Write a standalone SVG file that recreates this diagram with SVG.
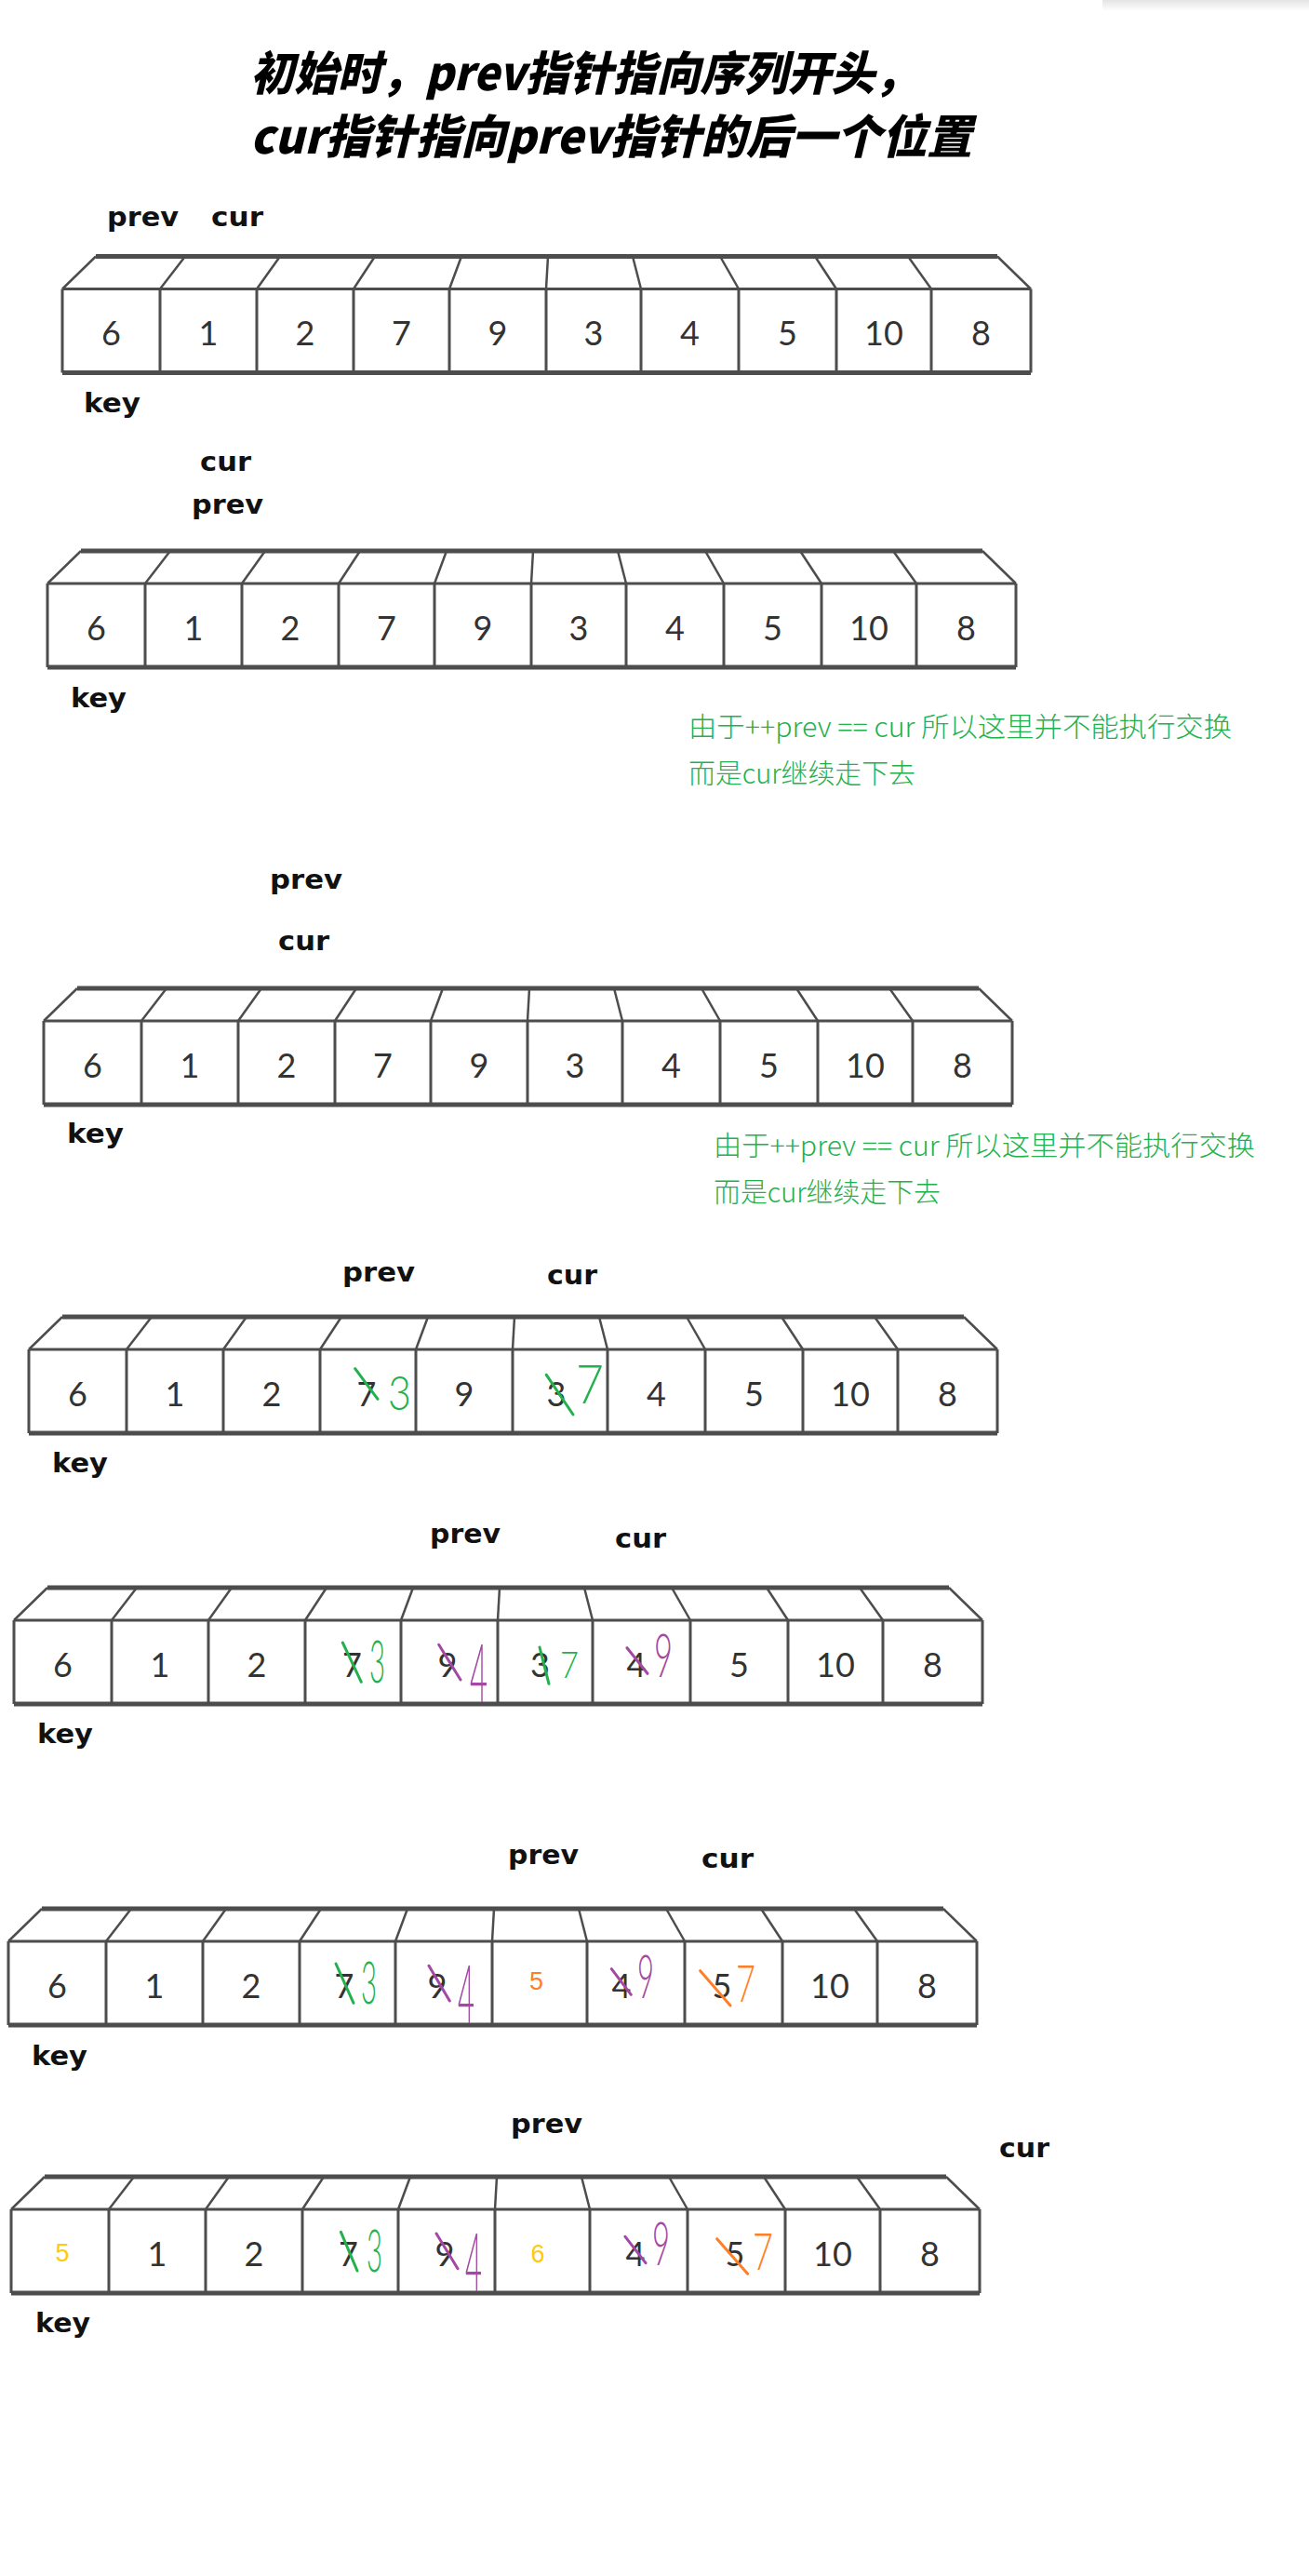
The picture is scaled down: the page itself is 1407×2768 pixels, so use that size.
<svg xmlns="http://www.w3.org/2000/svg" xmlns:xlink="http://www.w3.org/1999/xlink" width="1407" height="2768" viewBox="0 0 1407 2768">
<style>
.title{font-family:"Noto Sans CJK SC","Noto Sans",sans-serif;font-weight:900;font-style:italic;font-size:50px;fill:#000}
.lbl{font-family:"DejaVu Sans","Liberation Sans",sans-serif;font-weight:bold;font-size:29px;fill:#111}
.note{font-family:"Noto Sans CJK SC","Noto Sans",sans-serif;font-weight:300;font-size:29px;fill:#22b14c}
.d{font-family:"Lato","DejaVu Sans",sans-serif;font-size:36px;fill:#333;text-anchor:middle}
.h{font-family:"Lato","DejaVu Sans",sans-serif;font-weight:300}
.typed{font-family:"Liberation Sans","Noto Sans",sans-serif;font-size:27px;text-anchor:middle}
.g{fill:#22b14c}.p{fill:#a349a4}.o{fill:#ff7f27}.y{fill:#ffc90e}
.sg{stroke:#22b14c;stroke-width:3;fill:none;stroke-linecap:round}
.sp{stroke:#a349a4;stroke-width:3;fill:none;stroke-linecap:round}
.so{stroke:#ff7f27;stroke-width:3;fill:none;stroke-linecap:round}
</style>
<defs>
<linearGradient id="sh" x1="0" y1="0" x2="0" y2="1">
<stop offset="0" stop-color="#e4e4e4"/><stop offset="1" stop-color="#ffffff"/>
</linearGradient>
<g id="box" fill="none" stroke="#4d4d4d" stroke-linejoin="round">
<path d="M36,-35 H1005" stroke-width="5"/>
<path d="M0,90 H1041" stroke-width="5"/>
<path d="M0,0 H1041" stroke-width="3"/>
<path d="M0,0 L36,-35 M105,0 L132,-35 M209,0 L234,-35 M313,0 L336,-35 M416,0 L429,-35 M520,0 L522,-35 M622,0 L613,-35 M727,0 L707,-35 M832,0 L809,-35 M934,0 L909,-35 M1041,0 L1005,-35" stroke-width="2.5"/>
<path d="M0,0 V90 M105,0 V90 M209,0 V90 M313,0 V90 M416,0 V90 M520,0 V90 M622,0 V90 M727,0 V90 M832,0 V90 M934,0 V90 M1041,0 V90" stroke-width="3"/>
</g>
</defs>
<rect width="1407" height="2768" fill="#fff"/>
<rect x="1185" y="0" width="222" height="12" fill="url(#sh)"/>

<g id="title">
<text class="title" x="269" y="97" textLength="718" lengthAdjust="spacingAndGlyphs">初始时，prev指针指向序列开头，</text>
<text class="title" x="269" y="165" textLength="776" lengthAdjust="spacingAndGlyphs">cur指针指向prev指针的后一个位置</text>
</g>

<g id="step1">
<use xlink:href="#box" href="#box" x="67" y="310.5"/>
<text class="lbl" x="115" y="243" textLength="77" lengthAdjust="spacingAndGlyphs">prev</text>
<text class="lbl" x="227" y="243" textLength="56" lengthAdjust="spacingAndGlyphs">cur</text>
<text class="lbl" x="90" y="443" textLength="61" lengthAdjust="spacingAndGlyphs">key</text>
<g class="d">
<text x="119.5" y="371">6</text><text x="224" y="371">1</text><text x="328" y="371">2</text><text x="431.5" y="371">7</text><text x="535" y="371">9</text><text x="638" y="371">3</text><text x="741.5" y="371">4</text><text x="846.5" y="371">5</text><text x="950" y="371">10</text><text x="1054.5" y="371">8</text>
</g>
</g>

<g id="step2">
<use xlink:href="#box" href="#box" x="51" y="627"/>
<text class="lbl" x="215" y="506" textLength="55" lengthAdjust="spacingAndGlyphs">cur</text>
<text class="lbl" x="206" y="552" textLength="77" lengthAdjust="spacingAndGlyphs">prev</text>
<text class="lbl" x="76" y="760" textLength="60" lengthAdjust="spacingAndGlyphs">key</text>
<g class="d">
<text x="103.5" y="688">6</text><text x="208" y="688">1</text><text x="312" y="688">2</text><text x="415.5" y="688">7</text><text x="519" y="688">9</text><text x="622" y="688">3</text><text x="725.5" y="688">4</text><text x="830.5" y="688">5</text><text x="934" y="688">10</text><text x="1038.5" y="688">8</text>
</g>
<text class="note" x="740" y="792" textLength="584" lengthAdjust="spacingAndGlyphs">由于++prev == cur 所以这里并不能执行交换</text>
<text class="note" x="740" y="842" textLength="244" lengthAdjust="spacingAndGlyphs">而是cur继续走下去</text>
</g>

<g id="step3">
<use xlink:href="#box" href="#box" x="47" y="1097"/>
<text class="lbl" x="290" y="955" textLength="78" lengthAdjust="spacingAndGlyphs">prev</text>
<text class="lbl" x="299" y="1021" textLength="55" lengthAdjust="spacingAndGlyphs">cur</text>
<text class="lbl" x="72" y="1228" textLength="61" lengthAdjust="spacingAndGlyphs">key</text>
<g class="d">
<text x="99.5" y="1158">6</text><text x="204" y="1158">1</text><text x="308" y="1158">2</text><text x="411.5" y="1158">7</text><text x="515" y="1158">9</text><text x="618" y="1158">3</text><text x="721.5" y="1158">4</text><text x="826.5" y="1158">5</text><text x="930" y="1158">10</text><text x="1034.5" y="1158">8</text>
</g>
<text class="note" x="767" y="1242" textLength="582" lengthAdjust="spacingAndGlyphs">由于++prev == cur 所以这里并不能执行交换</text>
<text class="note" x="767" y="1292" textLength="244" lengthAdjust="spacingAndGlyphs">而是cur继续走下去</text>
</g>

<g id="step4">
<use xlink:href="#box" href="#box" x="31" y="1450"/>
<text class="lbl" x="368" y="1377" textLength="78" lengthAdjust="spacingAndGlyphs">prev</text>
<text class="lbl" x="588" y="1380" textLength="54" lengthAdjust="spacingAndGlyphs">cur</text>
<text class="lbl" x="56" y="1582" textLength="60" lengthAdjust="spacingAndGlyphs">key</text>
<g class="d">
<text x="83.5" y="1511">6</text><text x="188" y="1511">1</text><text x="292" y="1511">2</text><text x="394" y="1511">7</text><text x="499" y="1511">9</text><text x="598" y="1511">3</text><text x="705.5" y="1511">4</text><text x="810.5" y="1511">5</text><text x="914" y="1511">10</text><text x="1018.5" y="1511">8</text>
</g>
<path class="sg" d="M381.7,1470.7 L406,1503.3 M587.3,1477.3 L616,1520"/>
<text class="h g" x="417" y="1515" font-size="52" textLength="25" lengthAdjust="spacingAndGlyphs">3</text>
<text class="h g" x="619" y="1508" font-size="58" textLength="30" lengthAdjust="spacingAndGlyphs">7</text>
</g>

<g id="step5">
<use xlink:href="#box" href="#box" x="15" y="1741"/>
<text class="lbl" x="462" y="1658" textLength="76" lengthAdjust="spacingAndGlyphs">prev</text>
<text class="lbl" x="661" y="1663" textLength="55" lengthAdjust="spacingAndGlyphs">cur</text>
<text class="lbl" x="40" y="1873" textLength="60" lengthAdjust="spacingAndGlyphs">key</text>
<g class="d">
<text x="67.5" y="1802">6</text><text x="172" y="1802">1</text><text x="276" y="1802">2</text><text x="378.5" y="1802">7</text><text x="481" y="1802">9</text><text x="580.5" y="1802">3</text><text x="684" y="1802">4</text><text x="794.5" y="1802">5</text><text x="898" y="1802">10</text><text x="1002.5" y="1802">8</text>
</g>
<path class="sg" d="M368.3,1765 L388.3,1807.3 M580,1770 L590,1809.3"/>
<path class="sp" d="M471.7,1767.3 L495,1805 M674,1770.7 L696,1798.3"/>
<text class="h g" x="397" y="1808" font-size="64" textLength="17" lengthAdjust="spacingAndGlyphs">3</text>
<text class="h p" x="505" y="1829" font-size="86" textLength="19" lengthAdjust="spacingAndGlyphs">4</text>
<text class="h g" x="602" y="1803" font-size="40" textLength="20" lengthAdjust="spacingAndGlyphs">7</text>
<text class="h p" x="703" y="1802" font-size="66" textLength="20" lengthAdjust="spacingAndGlyphs">9</text>
</g>

<g id="step6">
<use xlink:href="#box" href="#box" x="9" y="2086"/>
<text class="lbl" x="546" y="2003" textLength="76" lengthAdjust="spacingAndGlyphs">prev</text>
<text class="lbl" x="754" y="2007" textLength="56" lengthAdjust="spacingAndGlyphs">cur</text>
<text class="lbl" x="34" y="2219" textLength="60" lengthAdjust="spacingAndGlyphs">key</text>
<g class="d">
<text x="61.5" y="2147">6</text><text x="166" y="2147">1</text><text x="270" y="2147">2</text><text x="370" y="2147">7</text><text x="470" y="2147">9</text><text x="668" y="2147">4</text><text x="776" y="2147">5</text><text x="892" y="2147">10</text><text x="996.5" y="2147">8</text>
</g>
<path class="sg" d="M361,2110 L380,2152.3"/>
<path class="sp" d="M461,2112.3 L483.3,2150 M657.3,2115.7 L678.3,2143.3"/>
<path class="so" d="M752.7,2117.7 L785,2155"/>
<text class="h g" x="388" y="2153" font-size="64" textLength="17" lengthAdjust="spacingAndGlyphs">3</text>
<text class="h p" x="492" y="2174" font-size="86" textLength="18" lengthAdjust="spacingAndGlyphs">4</text>
<text class="typed o" x="576.5" y="2138">5</text>
<text class="h p" x="685" y="2147" font-size="66" textLength="18" lengthAdjust="spacingAndGlyphs">9</text>
<text class="h o" x="791" y="2151" font-size="55" textLength="21" lengthAdjust="spacingAndGlyphs">7</text>
</g>

<g id="step7">
<use xlink:href="#box" href="#box" x="12" y="2374"/>
<text class="lbl" x="549" y="2292" textLength="77" lengthAdjust="spacingAndGlyphs">prev</text>
<text class="lbl" x="1074" y="2318" textLength="54" lengthAdjust="spacingAndGlyphs">cur</text>
<text class="lbl" x="38" y="2506" textLength="59" lengthAdjust="spacingAndGlyphs">key</text>
<g class="d">
<text x="169" y="2435">1</text><text x="273" y="2435">2</text><text x="374.5" y="2435">7</text><text x="478" y="2435">9</text><text x="683" y="2435">4</text><text x="790" y="2435">5</text><text x="895" y="2435">10</text><text x="999.5" y="2435">8</text>
</g>
<path class="sg" d="M366.4,2398.3 L384,2440"/>
<path class="sp" d="M469,2400 L492,2437.7 M672,2403.3 L694,2431.7"/>
<path class="so" d="M770.7,2405.7 L803.6,2443.3"/>
<text class="typed y" x="67" y="2430">5</text>
<text class="h g" x="394" y="2441" font-size="64" textLength="17" lengthAdjust="spacingAndGlyphs">3</text>
<text class="h p" x="500" y="2462" font-size="86" textLength="18" lengthAdjust="spacingAndGlyphs">4</text>
<text class="typed y" x="578" y="2431">6</text>
<text class="h p" x="701" y="2434" font-size="66" textLength="19" lengthAdjust="spacingAndGlyphs">9</text>
<text class="h o" x="809" y="2439" font-size="55" textLength="22" lengthAdjust="spacingAndGlyphs">7</text>
</g>
</svg>
